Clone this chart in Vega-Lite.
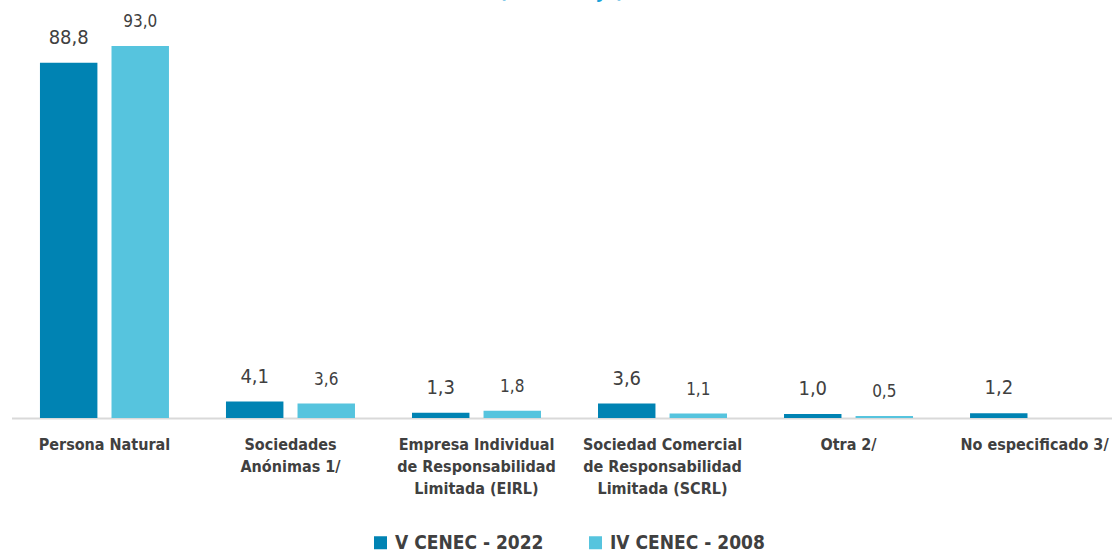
{
  "$schema": "https://vega.github.io/schema/vega-lite/v6.json",
  "autosize": {"type": "none"},
  "width": 1100,
  "height": 400,
  "padding": {"left": 11.5, "top": 18, "right": 0, "bottom": 135},
  "background": "white",
  "title": {
    "text": "(Porcentaje)",
    "color": "#1AA3D9",
    "fontSize": 20,
    "fontWeight": "bold",
    "font": "Liberation Sans Narrow, DejaVu Sans Condensed, Liberation Sans, sans-serif",
    "baseline": "bottom",
    "offset": 6,
    "dy": 15
  },
  "data": {
    "values": [
      {"categoria": "Persona Natural", "serie": "V CENEC - 2022", "valor": 88.8},
      {"categoria": "Persona Natural", "serie": "IV CENEC - 2008", "valor": 93.0},
      {"categoria": "Sociedades|Anónimas 1/", "serie": "V CENEC - 2022", "valor": 4.1},
      {"categoria": "Sociedades|Anónimas 1/", "serie": "IV CENEC - 2008", "valor": 3.6},
      {"categoria": "Empresa  Individual|de Responsabilidad|Limitada (EIRL)", "serie": "V CENEC - 2022", "valor": 1.3},
      {"categoria": "Empresa  Individual|de Responsabilidad|Limitada (EIRL)", "serie": "IV CENEC - 2008", "valor": 1.8},
      {"categoria": "Sociedad Comercial|de Responsabilidad|Limitada (SCRL)", "serie": "V CENEC - 2022", "valor": 3.6},
      {"categoria": "Sociedad Comercial|de Responsabilidad|Limitada (SCRL)", "serie": "IV CENEC - 2008", "valor": 1.1},
      {"categoria": "Otra 2/", "serie": "V CENEC - 2022", "valor": 1.0},
      {"categoria": "Otra 2/", "serie": "IV CENEC - 2008", "valor": 0.5},
      {"categoria": "No especificado 3/", "serie": "V CENEC - 2022", "valor": 1.2}
    ]
  },
  "encoding": {
    "x": {
      "field": "categoria",
      "type": "nominal",
      "sort": null,
      "scale": {"range": [0, 1116], "paddingInner": 0.3065, "paddingOuter": 0.153},
      "axis": {
        "title": null,
        "labelAngle": 0,
        "labelExpr": "split(datum.label, '|')",
        "labelFont": "Liberation Sans Narrow, DejaVu Sans Condensed, Liberation Sans, sans-serif",
        "labelFontSize": 16,
        "labelFontWeight": "bold",
        "labelColor": "#404040",
        "labelLineHeight": 22,
        "labelPadding": 18,
        "labelLimit": 300,
        "labelOverlap": false,
        "labelBound": false,
        "ticks": false,
        "domainColor": "#D9D9D9",
        "domainWidth": 2
      }
    },
    "xOffset": {
      "field": "serie",
      "type": "nominal",
      "sort": ["V CENEC - 2022", "IV CENEC - 2008"],
      "scale": {"paddingInner": 0.197, "paddingOuter": 0}
    },
    "y": {
      "field": "valor",
      "type": "quantitative",
      "scale": {"domain": [0, 100]},
      "axis": null
    }
  },
  "layer": [
    {
      "mark": {"type": "bar"},
      "encoding": {
        "color": {
          "field": "serie",
          "type": "nominal",
          "sort": ["V CENEC - 2022", "IV CENEC - 2008"],
          "scale": {"domain": ["V CENEC - 2022", "IV CENEC - 2008"], "range": ["#0083B3", "#56C4DE"]},
          "legend": {
            "title": null,
            "orient": "none",
            "direction": "horizontal",
            "legendX": 359.5,
            "legendY": 515,
            "symbolType": "square",
            "symbolSize": 169,
            "symbolStrokeWidth": 0,
            "labelFont": "Liberation Sans Narrow, DejaVu Sans Condensed, Liberation Sans, sans-serif",
            "labelFontSize": 19,
            "labelFontWeight": "bold",
            "labelColor": "#404040",
            "labelOffset": 5,
            "columnPadding": 42,
            "labelLimit": 300
          }
        }
      }
    },
    {
      "mark": {
        "type": "text",
        "baseline": "bottom",
        "dy": -15,
        "font": "Liberation Sans Narrow, DejaVu Sans Condensed, Liberation Sans, sans-serif",
        "color": "#404040"
      },
      "encoding": {
        "text": {"field": "valor", "type": "quantitative", "format": ".1f"},
        "size": {
          "condition": {"test": "datum.serie === 'V CENEC - 2022'", "value": 20},
          "value": 17
        }
      }
    }
  ],
  "config": {
    "view": {"stroke": null},
    "locale": {
      "number": {"decimal": ",", "thousands": ".", "grouping": [3], "currency": ["", ""]}
    }
  }
}
